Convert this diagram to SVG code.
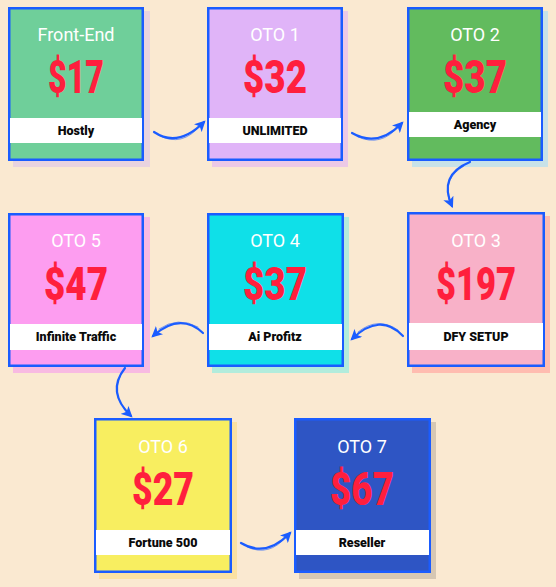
<svg xmlns="http://www.w3.org/2000/svg" width="556" height="587" viewBox="0 0 556 587">
<defs>
<style>
.bg{fill:#fae9d1}
.box{stroke:#1a5cff;stroke-width:2.5}
.bar{fill:#ffffff}
.hd{font-family:Roboto,"Liberation Sans",sans-serif;font-size:18px;fill:#ffffff;text-anchor:middle}
.pr{font-family:Roboto,"Liberation Sans",sans-serif;font-weight:900;font-size:46px;fill:#ff1f3d;text-anchor:middle}
.lb{font-family:Roboto,"Liberation Sans",sans-serif;font-weight:900;font-size:12.5px;fill:#0a0a0a;text-anchor:middle}
.ar{fill:none;stroke:#1a5cff;stroke-width:2.2;stroke-linecap:round}
.ar2{fill:none;stroke:#1a5cff;stroke-width:1;stroke-linecap:round;opacity:0.6}
</style>
<marker id="ah" viewBox="0 0 10 10" refX="8" refY="5" markerWidth="11" markerHeight="11" markerUnits="userSpaceOnUse" orient="auto">
<path d="M0,0 L10,5 L0,10 L2.5,5 z" fill="#1a5cff"/>
</marker>
</defs>
<rect class="bg" x="0" y="0" width="556" height="587"/>

<g id="front-end">
<rect x="13" y="11" width="137" height="156" fill="#e9d3df"/>
<rect class="box" x="9.25" y="8.25" width="133.5" height="151.5" fill="#6fcf9a"/>
<rect class="bar" x="10" y="118" width="132" height="25"/>
<text class="hd" x="76" y="41">Front-End</text>
<text class="pr" x="76" y="93" textLength="56" lengthAdjust="spacingAndGlyphs">$17</text>
<text class="lb" x="76" y="135">Hostly</text>
</g>

<g id="oto1">
<rect x="212" y="11" width="136" height="156" fill="#ecc9e6"/>
<rect class="box" x="208.25" y="8.25" width="133.5" height="151.5" fill="#e0b4f8"/>
<rect class="bar" x="209" y="118" width="132" height="25"/>
<text class="hd" x="275" y="41">OTO 1</text>
<text class="pr" x="275" y="93" textLength="64" lengthAdjust="spacingAndGlyphs">$32</text>
<text class="lb" x="275" y="135">UNLIMITED</text>
</g>

<g id="oto2">
<rect x="412" y="11" width="136" height="156" fill="#c8e2e8"/>
<rect class="box" x="408.25" y="8.25" width="133.5" height="151.5" fill="#62bb5e"/>
<rect class="bar" x="409" y="112" width="132" height="25"/>
<text class="hd" x="475" y="41">OTO 2</text>
<text class="pr" x="475" y="93" textLength="64" lengthAdjust="spacingAndGlyphs">$37</text>
<text class="lb" x="475" y="129">Agency</text>
</g>

<g id="oto3">
<rect x="412" y="216" width="138" height="157" fill="#ffbcb0"/>
<rect class="box" x="408.25" y="213.25" width="135.5" height="152.5" fill="#f8b1c8"/>
<rect class="bar" x="409" y="323" width="134" height="27"/>
<text class="hd" x="476" y="247">OTO 3</text>
<text class="pr" x="476" y="300" textLength="80" lengthAdjust="spacingAndGlyphs">$197</text>
<text class="lb" x="476" y="341">DFY SETUP</text>
</g>

<g id="oto4">
<rect x="212" y="217" width="137" height="156" fill="#b2ecdc"/>
<rect class="box" x="208.25" y="214.25" width="134.5" height="151.5" fill="#0fe0e8"/>
<rect class="bar" x="209" y="324" width="133" height="26"/>
<text class="hd" x="275" y="247">OTO 4</text>
<text class="pr" x="275" y="300" textLength="64" lengthAdjust="spacingAndGlyphs">$37</text>
<text class="lb" x="275" y="341">Ai Profitz</text>
</g>

<g id="oto5">
<rect x="13" y="217" width="137" height="156" fill="#f8bae2"/>
<rect class="box" x="9.25" y="214.25" width="133.5" height="151.5" fill="#fd9df0"/>
<rect class="bar" x="10" y="324" width="132" height="26"/>
<text class="hd" x="76" y="247">OTO 5</text>
<text class="pr" x="76" y="300" textLength="64" lengthAdjust="spacingAndGlyphs">$47</text>
<text class="lb" x="76" y="341">Infinite Traffic</text>
</g>

<g id="oto6">
<rect x="99" y="422" width="138" height="157" fill="#fbe1a2"/>
<rect class="box" x="95.25" y="419.25" width="135.5" height="152.5" fill="#f8ee60"/>
<rect class="bar" x="96" y="530" width="134" height="25"/>
<text class="hd" x="163" y="453">OTO 6</text>
<text class="pr" x="163" y="505" textLength="62" lengthAdjust="spacingAndGlyphs">$27</text>
<text class="lb" x="163" y="547">Fortune 500</text>
</g>

<g id="oto7">
<rect x="299" y="422" width="137" height="157" fill="#d6c7b3"/>
<rect class="box" x="295.25" y="419.25" width="134.5" height="152.5" fill="#2e55c4"/>
<rect class="bar" x="296" y="530" width="133" height="25"/>
<text class="hd" x="362" y="453">OTO 7</text>
<text class="pr" x="362" y="505" textLength="64" lengthAdjust="spacingAndGlyphs">$67</text>
<text class="lb" x="362" y="547">Reseller</text>
</g>

<g id="connectors">
<path class="ar" d="M154,132 Q178,148 204,122" marker-end="url(#ah)"/>
<path class="ar2" d="M160,136 Q182,147 200,126"/>
<path class="ar" d="M352,133 Q378,148 402,123" marker-end="url(#ah)"/>
<path class="ar2" d="M358,137 Q381,147 398,127"/>
<path class="ar" d="M470,162 Q438,175 452,206" marker-end="url(#ah)"/>
<path class="ar2" d="M464,166 Q443,178 449,200"/>
<path class="ar" d="M403,336 Q380,312 352,339" marker-end="url(#ah)"/>
<path class="ar2" d="M398,330 Q378,316 358,332"/>
<path class="ar" d="M203,333 Q180,312 153,336" marker-end="url(#ah)"/>
<path class="ar2" d="M198,327 Q178,316 159,329"/>
<path class="ar" d="M125,368 Q106,392 131,416" marker-end="url(#ah)"/>
<path class="ar2" d="M121,374 Q110,394 126,410"/>
<path class="ar" d="M241,543 Q266,558 290,533" marker-end="url(#ah)"/>
<path class="ar2" d="M247,547 Q269,557 286,537"/>
</g>
</svg>
